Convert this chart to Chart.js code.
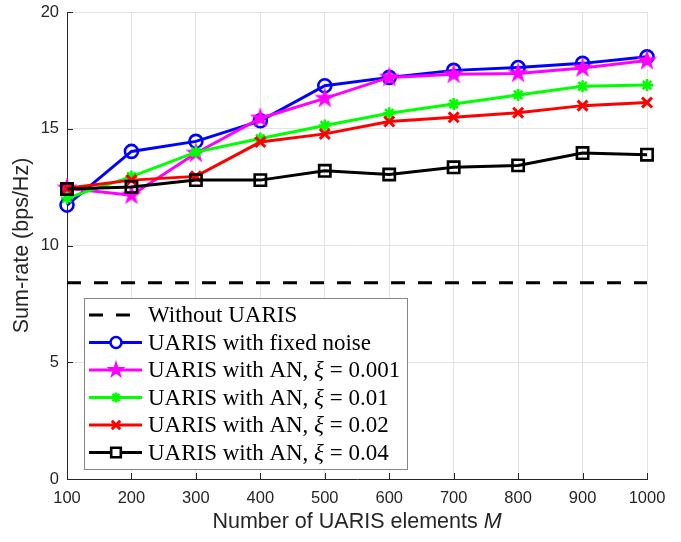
<!DOCTYPE html>
<html>
<head>
<meta charset="UTF-8">
<title>Sum-rate vs number of UARIS elements</title>
<script src="https://cdn.jsdelivr.net/npm/chart.js"></script>
<style>
  html, body { margin: 0; padding: 0; background: #fff; }
  #wrap { width: 681px; height: 542px; }
</style>
</head>
<body>
<div id="wrap"><canvas id="rateChart" width="681" height="542"></canvas></div>
<script>
// data
const elementsM = [100, 200, 300, 400, 500, 600, 700, 800, 900, 1000];
const withoutUaris = [8.41, 8.41, 8.41, 8.41, 8.41, 8.41, 8.41, 8.41, 8.41, 8.41];
const fixedNoise = [11.73, 14.03, 14.46, 15.34, 16.84, 17.2, 17.5, 17.62, 17.8, 18.08];
const an0001 = [12.45, 12.15, 13.95, 15.45, 16.3, 17.2, 17.33, 17.37, 17.6, 17.92];
const an001 = [12.03, 12.95, 14.0, 14.58, 15.14, 15.66, 16.06, 16.45, 16.82, 16.87];
const an002 = [12.45, 12.8, 12.96, 14.43, 14.78, 15.31, 15.49, 15.69, 15.99, 16.12];
const an004 = [12.42, 12.51, 12.8, 12.8, 13.2, 13.04, 13.35, 13.43, 13.96, 13.89];
const yTicks = [0, 5, 10, 15, 20];

const sansFont = '"Liberation Sans", Arial, sans-serif';
const serifFont = '"Liberation Serif", "Times New Roman", serif';
const axisColor = '#262626';

// filled pentagram marker (MATLAB 'p')
function makePentagram(r, color) {
  const c = document.createElement('canvas');
  const s = Math.ceil(r * 2 + 2);
  c.width = s; c.height = s;
  const g = c.getContext('2d');
  const cx = s / 2, cy = s / 2, ri = r * 0.382;
  g.beginPath();
  for (let i = 0; i < 10; i++) {
    const rad = i % 2 === 0 ? r : ri;
    const a = -Math.PI / 2 + i * Math.PI / 5;
    const px = cx + rad * Math.cos(a), py = cy + rad * Math.sin(a);
    if (i === 0) g.moveTo(px, py); else g.lineTo(px, py);
  }
  g.closePath();
  g.fillStyle = color;
  g.fill();
  return c;
}
const starImg = makePentagram(11, '#ff00ff');
const starImgSmall = makePentagram(10, '#ff00ff');

function pts(ys) {
  return elementsM.map((m, i) => ({ x: m, y: ys[i] }));
}

const series = [
  { label: 'Without UARIS', data: withoutUaris, color: '#000000', style: false, dash: [14, 13], order: 5 },
  { label: 'UARIS with fixed noise', data: fixedNoise, color: '#0000ff', style: 'circle', radius: 6.5, bw: 2.6, order: 4 },
  { label: 'UARIS with AN, ', xi: ' = 0.001', data: an0001, color: '#ff00ff', style: starImg, radius: 11, bw: 1, order: 3 },
  { label: 'UARIS with AN, ', xi: ' = 0.01', data: an001, color: '#00ff00', style: 'star', radius: 6, bw: 2.6, order: 2 },
  { label: 'UARIS with AN, ', xi: ' = 0.02', data: an002, color: '#ff0000', style: 'crossRot', radius: 7, bw: 3, order: 1 },
  { label: 'UARIS with AN, ', xi: ' = 0.04', data: an004, color: '#000000', style: 'rect', radius: 8, bw: 2.6, order: 0 }
];

const datasets = series.map(s => ({
  label: s.label + (s.xi ? 'ξ' + s.xi : ''),
  data: pts(s.data),
  borderColor: s.color,
  backgroundColor: 'rgba(0,0,0,0)',
  borderWidth: 3,
  borderDash: s.dash || [],
  pointStyle: s.style,
  pointRadius: s.style ? s.radius : 0,
  pointBorderWidth: s.bw || 0,
  pointBorderColor: s.color,
  pointBackgroundColor: 'rgba(0,0,0,0)',
  tension: 0,
  clip: false,
  order: s.order
}));

// axis titles, inward ticks and the legend box
const decorations = {
  id: 'decorations',
  afterDraw(chart) {
    const ctx = chart.ctx;
    const area = chart.chartArea;
    const xs = chart.scales.x, ys = chart.scales.y;
    ctx.save();

    // inward ticks
    ctx.strokeStyle = axisColor;
    ctx.lineWidth = 1;
    ctx.beginPath();
    elementsM.forEach(m => {
      const px = Math.round(xs.getPixelForValue(m)) + 0.5;
      ctx.moveTo(px, area.bottom);
      ctx.lineTo(px, area.bottom - 6);
    });
    yTicks.forEach(v => {
      const py = Math.round(ys.getPixelForValue(v)) + 0.5;
      ctx.moveTo(area.left, py);
      ctx.lineTo(area.left + 6, py);
    });
    ctx.stroke();

    // y title
    ctx.fillStyle = axisColor;
    ctx.font = '21.5px ' + sansFont;
    ctx.textAlign = 'center';
    ctx.textBaseline = 'middle';
    ctx.save();
    ctx.translate(22, (area.top + area.bottom) / 2);
    ctx.rotate(-Math.PI / 2);
    ctx.fillText('Sum-rate (bps/Hz)', 0, 0);
    ctx.restore();

    // x title with italic M
    const base = 'Number of UARIS elements ';
    ctx.font = '21.5px ' + sansFont;
    const w1 = ctx.measureText(base).width;
    ctx.font = 'italic 21.5px ' + sansFont;
    const w2 = ctx.measureText('M').width;
    let tx = (area.left + area.right) / 2 - (w1 + w2) / 2;
    ctx.textAlign = 'left';
    ctx.font = '21.5px ' + sansFont;
    ctx.fillText(base, tx, 522);
    ctx.font = 'italic 21.5px ' + sansFont;
    ctx.fillText('M', tx + w1, 522);

    // legend
    const lx = 84, ly = 298, lw = 323, lh = 171;
    ctx.fillStyle = '#ffffff';
    ctx.fillRect(lx, ly, lw, lh);
    ctx.strokeStyle = '#858585';
    ctx.lineWidth = 1;
    ctx.strokeRect(lx + 0.5, ly + 0.5, lw, lh);

    const rowY0 = 315, rowStep = 27.5;
    series.forEach((s, i) => {
      const y = rowY0 + i * rowStep;
      ctx.strokeStyle = s.color;
      ctx.lineWidth = 3;
      ctx.setLineDash(s.dash || []);
      ctx.beginPath();
      ctx.moveTo(89, y);
      ctx.lineTo(142, y);
      ctx.stroke();
      ctx.setLineDash([]);
      if (s.style) {
        const st = s.style === starImg ? starImgSmall : s.style;
        const r = s.style === starImg ? 10 : s.radius * 0.85;
        ctx.strokeStyle = s.color;
        ctx.fillStyle = s.style === 'circle' || s.style === 'rect' ? '#ffffff' : s.color;
        ctx.lineWidth = s.bw;
        Chart.helpers.drawPoint(ctx, { pointStyle: st, radius: r, borderWidth: s.bw, rotation: 0 }, 116, y);
      }
      ctx.fillStyle = '#000000';
      ctx.textAlign = 'left';
      ctx.textBaseline = 'middle';
      ctx.font = '23px ' + serifFont;
      let x = 148;
      ctx.fillText(s.label, x, y + 1);
      if (s.xi) {
        x += ctx.measureText(s.label).width;
        ctx.font = 'italic 23px ' + serifFont;
        ctx.fillText('ξ', x, y + 1);
        x += ctx.measureText('ξ').width;
        ctx.font = '23px ' + serifFont;
        ctx.fillText(s.xi, x, y + 1);
      }
    });
    ctx.restore();
  }
};

new Chart(document.getElementById('rateChart').getContext('2d'), {
  type: 'line',
  data: { datasets: datasets },
  options: {
    responsive: false,
    animation: false,
    layout: { padding: { left: 0, top: 9.5, right: 34, bottom: 0 } },
    plugins: { legend: { display: false }, tooltip: { enabled: false } },
    scales: {
      x: {
        type: 'linear',
        min: 100,
        max: 1000,
        afterFit(scale) { scale.height = 63; scale.paddingLeft = 0; scale.paddingRight = 0; },
        afterBuildTicks(scale) { scale.ticks = elementsM.map(v => ({ value: v })); },
        grid: { color: '#e3e3e3', lineWidth: 1, drawTicks: false },
        border: { display: true, color: axisColor, width: 1 },
        ticks: { color: axisColor, font: { family: sansFont, size: 16.5 }, padding: 10, maxRotation: 0,
                 callback: v => String(v) }
      },
      y: {
        min: 0,
        max: 20,
        afterFit(scale) { scale.width = 67; scale.paddingTop = 0; scale.paddingBottom = 0; },
        afterBuildTicks(scale) { scale.ticks = yTicks.map(v => ({ value: v })); },
        grid: { color: '#e3e3e3', lineWidth: 1, drawTicks: false },
        border: { display: true, color: axisColor, width: 1 },
        ticks: { color: axisColor, font: { family: sansFont, size: 16.5 }, padding: 8 }
      }
    }
  },
  plugins: [decorations]
});
</script>
</body>
</html>
